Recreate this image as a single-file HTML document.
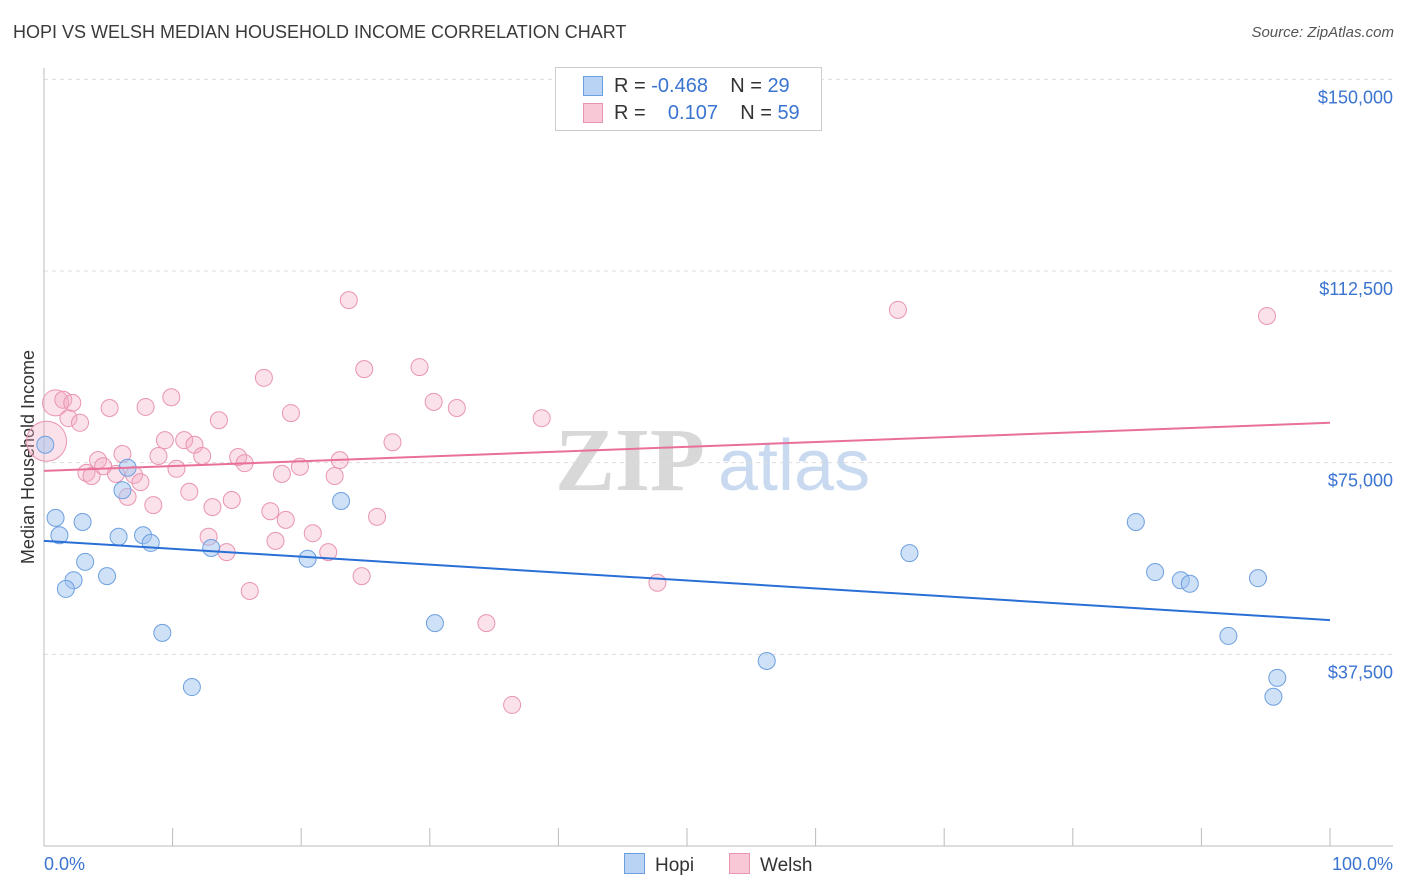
<!DOCTYPE html>
<html><head><meta charset="utf-8"><style>
body{margin:0;background:#fff;font-family:"Liberation Sans",sans-serif;}
#wrap{position:relative;width:1406px;height:892px;overflow:hidden}
.t{position:absolute;white-space:nowrap}
</style></head><body>
<div id="wrap">
<div class="t" style="left:13px;top:22px;font-size:18px;color:#3a3a3a">HOPI VS WELSH MEDIAN HOUSEHOLD INCOME CORRELATION CHART</div>
<div class="t" style="right:12px;top:24px;font-size:15px;font-style:italic;color:#555">Source: ZipAtlas.com</div>
<svg id="svg" width="1406" height="892" style="position:absolute;left:0;top:0"></svg>
</div>
<script>
const hopiX=[0.1,0.9,1.2,3.0,2.3,1.7,3.2,4.9,6.5,5.8,7.7,8.3,9.2,11.5,13.0,20.5,23.1,30.4,56.2,67.3,84.9,86.4,88.4,89.1,92.1,94.4,95.9,95.6,6.1];
const hopiY=[78.5,64.2,60.8,63.4,52.0,50.3,55.6,52.8,74.0,60.5,60.8,59.3,41.7,31.1,58.3,56.2,67.5,43.6,36.2,57.3,63.4,53.6,52.0,51.3,41.1,52.4,32.9,29.2,69.6];
const welshX=[0.2,0.9,1.5,2.2,1.9,2.8,3.3,3.7,4.2,4.6,5.1,6.1,5.6,6.5,7.0,7.5,7.9,8.5,8.9,9.4,9.9,10.3,10.9,11.3,11.7,12.3,12.8,13.1,13.6,14.2,14.6,15.1,15.6,16.0,17.1,17.6,18.0,18.5,18.8,19.2,19.9,20.9,22.1,22.6,23.0,23.7,24.7,24.9,25.9,27.1,29.2,30.3,32.1,34.4,36.4,38.7,47.7,66.4,95.1];
const welshY=[79.2,86.7,87.3,86.7,83.7,82.8,73.0,72.4,75.5,74.3,85.7,76.7,72.8,68.3,72.6,71.2,85.9,66.7,76.3,79.4,87.8,73.8,79.4,69.3,78.5,76.3,60.5,66.3,83.3,57.5,67.7,76.1,74.9,49.9,91.6,65.5,59.7,72.8,63.8,84.7,74.2,61.2,57.5,72.4,75.5,106.8,52.8,93.3,64.4,79.0,93.7,86.9,85.7,43.6,27.6,83.7,51.5,104.9,103.7];
const hopiTrend=[59.7,44.2];
const welshTrend=[73.4,82.8];
const yTicks=[150000,112500,75000,37500];
const yTickLabels=["$150,000","$112,500","$75,000","$37,500"];

const X=p=>44+p*12.86;
const Y=v=>846-v/37.5*191.67; // v in thousands
const NS="http://www.w3.org/2000/svg";
const svg=document.getElementById('svg');
function mk(tag,attrs,parent){const e=document.createElementNS(NS,tag);for(const k in attrs)e.setAttribute(k,attrs[k]);(parent||svg).appendChild(e);return e;}

// watermark
let wm=mk('text',{x:555,y:490,'font-size':90,'font-family':'Liberation Serif,serif',fill:'#d8d8d8','font-weight':'bold'});wm.textContent='ZIP';


let wm2=mk('text',{x:718,y:490,'font-size':72,'font-family':'Liberation Sans,sans-serif',fill:'#c9daf0'});wm2.textContent='atlas';



yTicks.forEach((t,i)=>{
  const y=Y(t/1000);
  const g=mk('line',{x1:44,x2:1393,y1:y,y2:y,stroke:'#ddd','stroke-dasharray':'4,4'});
  
  
  const l=mk('text',{x:1393,y:y+24,'text-anchor':'end','font-size':18,fill:'#3b74d0'});l.textContent=yTickLabels[i];
  
  
});
let ax=mk('line',{x1:44,x2:44,y1:68,y2:846,stroke:'#bbb'});


let bx=mk('line',{x1:44,x2:1393,y1:846,y2:846,stroke:'#bbb'});


for(let i=0;i<=10;i++){
  const tk=mk('line',{x1:X(i*10),x2:X(i*10),y1:828,y2:846,stroke:'#bbb'});
  
  
}
let xl=mk('text',{x:44,y:870,'font-size':18,fill:'#3b74d0'});xl.textContent='0.0%';


let xr=mk('text',{x:1393,y:870,'font-size':18,fill:'#3b74d0','text-anchor':'end'});xr.textContent='100.0%';


let yt=mk('text',{x:34,y:457,'font-size':18,fill:'#333','text-anchor':'middle',transform:'rotate(-90 34 457)'});yt.textContent='Median Household Income';



welshX.forEach((p,i)=>{
  const r=i===0?20:(i===1?13:8.5);
  const c=mk('circle',{cx:X(p),cy:Y(welshY[i]),r:r,fill:'rgba(244,170,195,0.35)',stroke:'#e995b0','stroke-width':1});
  
  
});
hopiX.forEach((p,i)=>{
  const c=mk('circle',{cx:X(p),cy:Y(hopiY[i]),r:8.5,fill:'rgba(160,196,240,0.5)',stroke:'#6d9fe0','stroke-width':1});
  
  
});
let hl=mk('line',{x1:X(0),x2:X(100),y1:Y(hopiTrend[0]),y2:Y(hopiTrend[1]),stroke:'#2a6fd6','stroke-width':2});


let wl=mk('line',{x1:X(0),x2:X(100),y1:Y(welshTrend[0]),y2:Y(welshTrend[1]),stroke:'#e8709a','stroke-width':2});


</script>
<div class="t" style="left:555px;top:67px;width:265px;height:62px;border:1px solid #ccc;background:#fff;font-size:20px;color:#333">
 <div style="position:absolute;left:27px;top:8px;width:18px;height:18px;background:#b9d3f5;border:1px solid #6d9fe0"></div>
 <div class="t" style="left:58px;top:7px">R = <span style="color:#3b74d0">-0.468</span>&nbsp;&nbsp;&nbsp; N = <span style="color:#3b74d0">29</span></div>
 <div style="position:absolute;left:27px;top:35px;width:18px;height:18px;background:#f8c8d6;border:1px solid #e995b0"></div>
 <div class="t" style="left:58px;top:34px">R = &nbsp;&nbsp;&nbsp;<span style="color:#3b74d0">0.107</span>&nbsp;&nbsp;&nbsp; N = <span style="color:#3b74d0">59</span></div>
</div>
<div class="t" style="left:624px;top:853px;font-size:19px;color:#333"><span style="display:inline-block;width:19px;height:19px;background:#b9d3f5;border:1px solid #6d9fe0;vertical-align:-3px;margin-right:10px"></span>Hopi</div>
<div class="t" style="left:729px;top:853px;font-size:19px;color:#333"><span style="display:inline-block;width:19px;height:19px;background:#f8c8d6;border:1px solid #e995b0;vertical-align:-3px;margin-right:10px"></span>Welsh</div>
</body></html>
